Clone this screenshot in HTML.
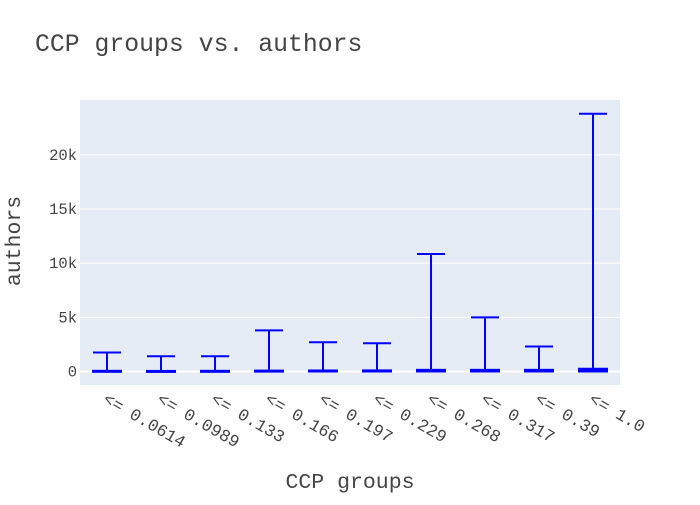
<!DOCTYPE html>
<html><head><meta charset="utf-8"><style>
body{margin:0;background:#fff;}
svg text{font-family:"Liberation Mono","Courier New",monospace;fill:#444;}
</style></head><body>
<svg id="chart" width="700" height="500">
<rect x="0" y="0" width="700" height="500" fill="#fff"/>
<rect x="80" y="100" width="540" height="285" fill="#e5ecf6"/>
<g id="grid"></g>
<g id="boxes"></g>
<g id="xt"></g>
<text x="35" y="51" font-size="24.8" style="fill:#444">CCP groups vs. authors</text>
<text x="350" y="488" font-size="21.5" text-anchor="middle">CCP groups</text>
<text x="0" y="0" font-size="21.5" text-anchor="middle" transform="translate(20,241) rotate(-90)">authors</text>
</svg>
<script>
const categories=["<= 0.0614","<= 0.0989","<= 0.133","<= 0.166","<= 0.197","<= 0.229","<= 0.268","<= 0.317","<= 0.39","<= 1.0"];
const upperWhisker=[1750,1400,1400,3800,2700,2600,10850,5000,2300,23800];
const q3Values=[60,50,60,80,90,100,150,150,150,250];
const medianValues=[20,20,25,30,35,40,50,55,60,90];
const q1Values=[0,0,0,0,0,0,0,0,0,0];
const yTicks=[0,5000,10000,15000,20000];
const yTickLabels=["0","5k","10k","15k","20k"];
const ns="http://www.w3.org/2000/svg";
const yMin=-1250,yMax=25070,plotTop=100,plotBot=385,plotLeft=80,plotW=540;
const yS=v=>plotBot-(v-yMin)/(yMax-yMin)*(plotBot-plotTop);
const xS=i=>plotLeft+(i+0.5)*plotW/categories.length;
function mk(tag,attrs,parent){const e=document.createElementNS(ns,tag);for(const k in attrs)e.setAttribute(k,attrs[k]);parent.appendChild(e);return e;}
const grid=document.getElementById('grid');
yTicks.forEach((t,i)=>{
  const l=mk('line',{x1:plotLeft,x2:plotLeft+plotW,y1:yS(t),y2:yS(t),stroke:'#fff','stroke-width':t===0?2:1},grid);
  
  
  const tx=mk('text',{x:plotLeft-3,y:yS(t)+5,'text-anchor':'end','font-size':15.5},grid);
  tx.textContent=yTickLabels[i];
  
  
});
const bx=document.getElementById('boxes'),xt=document.getElementById('xt');
const hw=14;
categories.forEach((c,i)=>{
  const cx=xS(i);
  const g=mk('g',{stroke:'#0000ff','stroke-width':2,fill:'rgba(0,0,255,0.5)'},bx);
  
  
  mk('rect',{x:cx-hw,y:yS(q3Values[i]),width:2*hw,height:Math.max(1,yS(q1Values[i])-yS(q3Values[i]))},g);
  mk('line',{x1:cx-hw,x2:cx+hw,y1:yS(medianValues[i]),y2:yS(medianValues[i])},g);
  mk('line',{x1:cx,x2:cx,y1:yS(q3Values[i]),y2:yS(upperWhisker[i])},g);
  mk('line',{x1:cx-hw,x2:cx+hw,y1:yS(upperWhisker[i]),y2:yS(upperWhisker[i])},g);
  const t=mk('text',{x:0,y:0,'font-size':17,transform:`translate(${cx-5},${402}) rotate(30)`},xt);
  t.textContent=c;
  
  
});
</script>
</body></html>
